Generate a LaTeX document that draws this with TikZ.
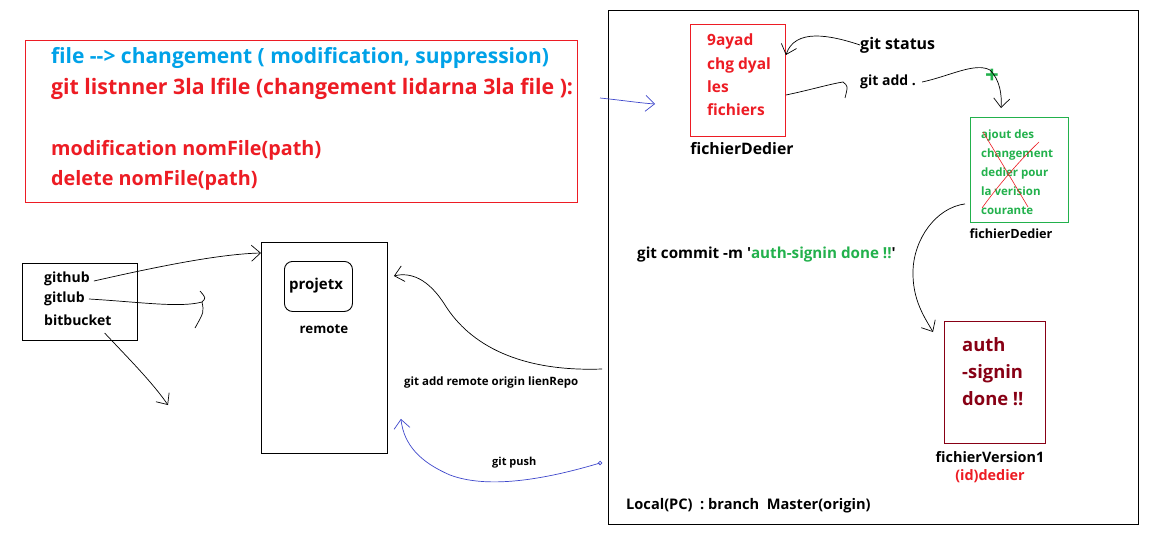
\documentclass[tikz,border=0pt]{standalone}
\usepackage{fontspec}
\setmainfont{Open Sans}
\usetikzlibrary{arrows.meta}
\definecolor{pred}{HTML}{ED1C24}
\definecolor{pblue}{HTML}{00A2E8}
\definecolor{pgreen}{HTML}{22B14C}
\definecolor{pdred}{HTML}{880015}
\definecolor{pind}{HTML}{3F48CC}
\tikzset{
  txt/.style={inner sep=0pt, anchor=west, font=\bfseries\fontsize{#1}{#1}\selectfont},
  txt/.default=14,
  ctxt/.style={inner sep=0pt, anchor=center, font=\bfseries\fontsize{#1}{#1}\selectfont},
  ctxt/.default=14,
  frame/.style={draw, line width=0.9pt, anchor=north west, inner sep=0pt},
  sk/.style={line width=0.7pt, -{Straight Barb[length=9pt,width=16pt,line width=0.7pt]}},
  skn/.style={line width=0.7pt},
}
\begin{document}
\begin{tikzpicture}[x=1pt,y=-1pt]
\useasboundingbox[fill=white] (0,0) rectangle (1150,538);

% top-left red box
\node[frame, draw=pred, minimum width=552pt, minimum height=162pt] (note) at (25,40) {};
\node[txt=21, text=pblue] (l1) at (51,58) {file {-}{-}> changement ( modification, suppression)};
\node[txt=21.3, text=pred] (l2) at (51,89) {git listnner 3la lfile (changement lidarna 3la file ):};
\node[txt=19.8, text=pred] (l3) at (51,150) {modification nomFile(path)};
\node[txt=19.8, text=pred] (l4) at (51,180) {delete nomFile(path)};

% local box
\node[frame, minimum width=530pt, minimum height=514pt] (local) at (608,10) {};
\node[txt=14.6] (loclbl) at (626,506) {Local(PC) \ : branch \ Master(origin)};

% red file box
\node[frame, draw=pred, minimum width=95pt, minimum height=112pt] (chg) at (690,24) {};
\node[text=pred, align=left, inner sep=0pt, font=\bfseries\fontsize{15.5}{23.3}\selectfont, anchor=north west] (chgt) at (707,34) {9ayad\\chg dyal\\les\\fichiers};
\node[ctxt=15.8] (fd1) at (742,149) {fichierDedier};

\node[txt=16] (gst) at (860,45) {git status};
\node[txt=14] (gadd) at (860,82) {git add .};

% green box
\node[frame, draw=pgreen, minimum width=98pt, minimum height=105pt] (stage) at (970,117) {};
\node[text=pgreen, align=left, inner sep=0pt, font=\bfseries\fontsize{11.5}{19}\selectfont, anchor=north west] (staget) at (981,130) {ajout des\\changement\\dedier pour\\la verision\\courante};
\node[ctxt=12.7] (fd2) at (1011,234) {fichierDedier};
\draw[pred, line width=0.6pt] (983,132) .. controls (1000,160) and (1015,185) .. (1028,207);
\draw[pred, line width=0.6pt] (1039,142) .. controls (1015,165) and (995,190) .. (982,208);
\node[ctxt=24, text=pgreen] (plus) at (992,76) {+};

% commit text
\node[txt=15.2] (commit) at (637,255) {git commit -m \textquotesingle\textcolor{pgreen}{auth-signin done !!}\textquotesingle};

% version box
\node[frame, draw=pdred, minimum width=101pt, minimum height=122pt] (ver) at (944,321) {};
\node[text=pdred, align=left, inner sep=0pt, font=\bfseries\fontsize{18.4}{27}\selectfont, anchor=north west] (vert) at (962,337) {auth\\-signin\\done !!};
\node[ctxt=14.4] (fv) at (990,457) {fichierVersion1};
\node[ctxt=14.4, text=pred] (idd) at (990,476) {(id)dedier};

% left hosts box
\node[frame, minimum width=115pt, minimum height=77pt] (hosts) at (22,263) {};
\node[txt] (gh) at (44,279) {github};
\node[txt] (gl) at (44,299) {gitlub};
\node[txt] (bb) at (44,320) {bitbucket};

% remote box
\node[frame, minimum width=126pt, minimum height=211pt] (remote) at (261,242) {};
\node[frame, rounded corners=8pt, minimum width=68pt, minimum height=50pt] (proj) at (284,261) {};
\node[ctxt=15] (projt) at (316,286) {projetx};
\node[ctxt=13.3] (rem) at (324,329) {remote};

\node[txt=11.5] (addrem) at (404,383) {git add remote origin lienRepo};
\node[txt=11] (push) at (492,463) {git push};

% connectors
\draw[sk] ([xshift=4pt,yshift=-2pt]gh.east) .. controls (160,266) and (220,254) .. ([yshift=-11pt]remote.north west);
\draw[skn] ([xshift=4pt]gl.east) .. controls (140,302) and (180,308) .. (202,302) .. controls (206,298) .. (200,291);
\draw[skn] (202,302) .. controls (204,312) .. (195,328);
\coordinate (bbend) at (168,405);
\draw[sk] ([xshift=-7pt,yshift=-13pt]bb.east) .. controls (130,360) and (152,382) .. (bbend);

\coordinate (locA) at (602,369);
\draw[sk] (locA) .. controls (520,372) and (470,345) .. (445,305) .. controls (428,278) and (410,272) .. ([xshift=6pt,yshift=-34pt]remote.north east);
\coordinate (locB) at (600,463);
\draw[pind, sk] (locB) .. controls (550,478) and (490,490) .. (450,475) .. controls (420,462) and (404,445) .. ([xshift=13pt,yshift=35pt]remote.south east);
\node[circle, draw=pind, inner sep=1.3pt, line width=0.6pt] (pushdot) at (600,463) {};

\coordinate (blueA) at (600,98);
\draw[pind, sk] (blueA) .. controls (620,100) and (640,103) .. (655,104);

\draw[sk] (gst.west) .. controls (830,35) and (795,28) .. ([yshift=-31pt]chg.north east);
\draw[skn] ([yshift=-71pt]chg.north east) .. controls (810,90) and (830,84) .. (843,82) .. controls (848,86) .. (845,98);
\draw[sk] ([xshift=6pt]gadd.east) .. controls (950,76) and (975,62) .. (990,70) .. controls (1000,80) and (1002,95) .. ([xshift=31pt,yshift=9pt]stage.north west);
\draw[sk] ([xshift=-5pt,yshift=19pt]stage.south west) .. controls (935,208) and (914,240) .. (913,270) .. controls (912,300) and (925,318) .. ([xshift=-11pt,yshift=-11pt]ver.north west);
\end{tikzpicture}
\end{document}
